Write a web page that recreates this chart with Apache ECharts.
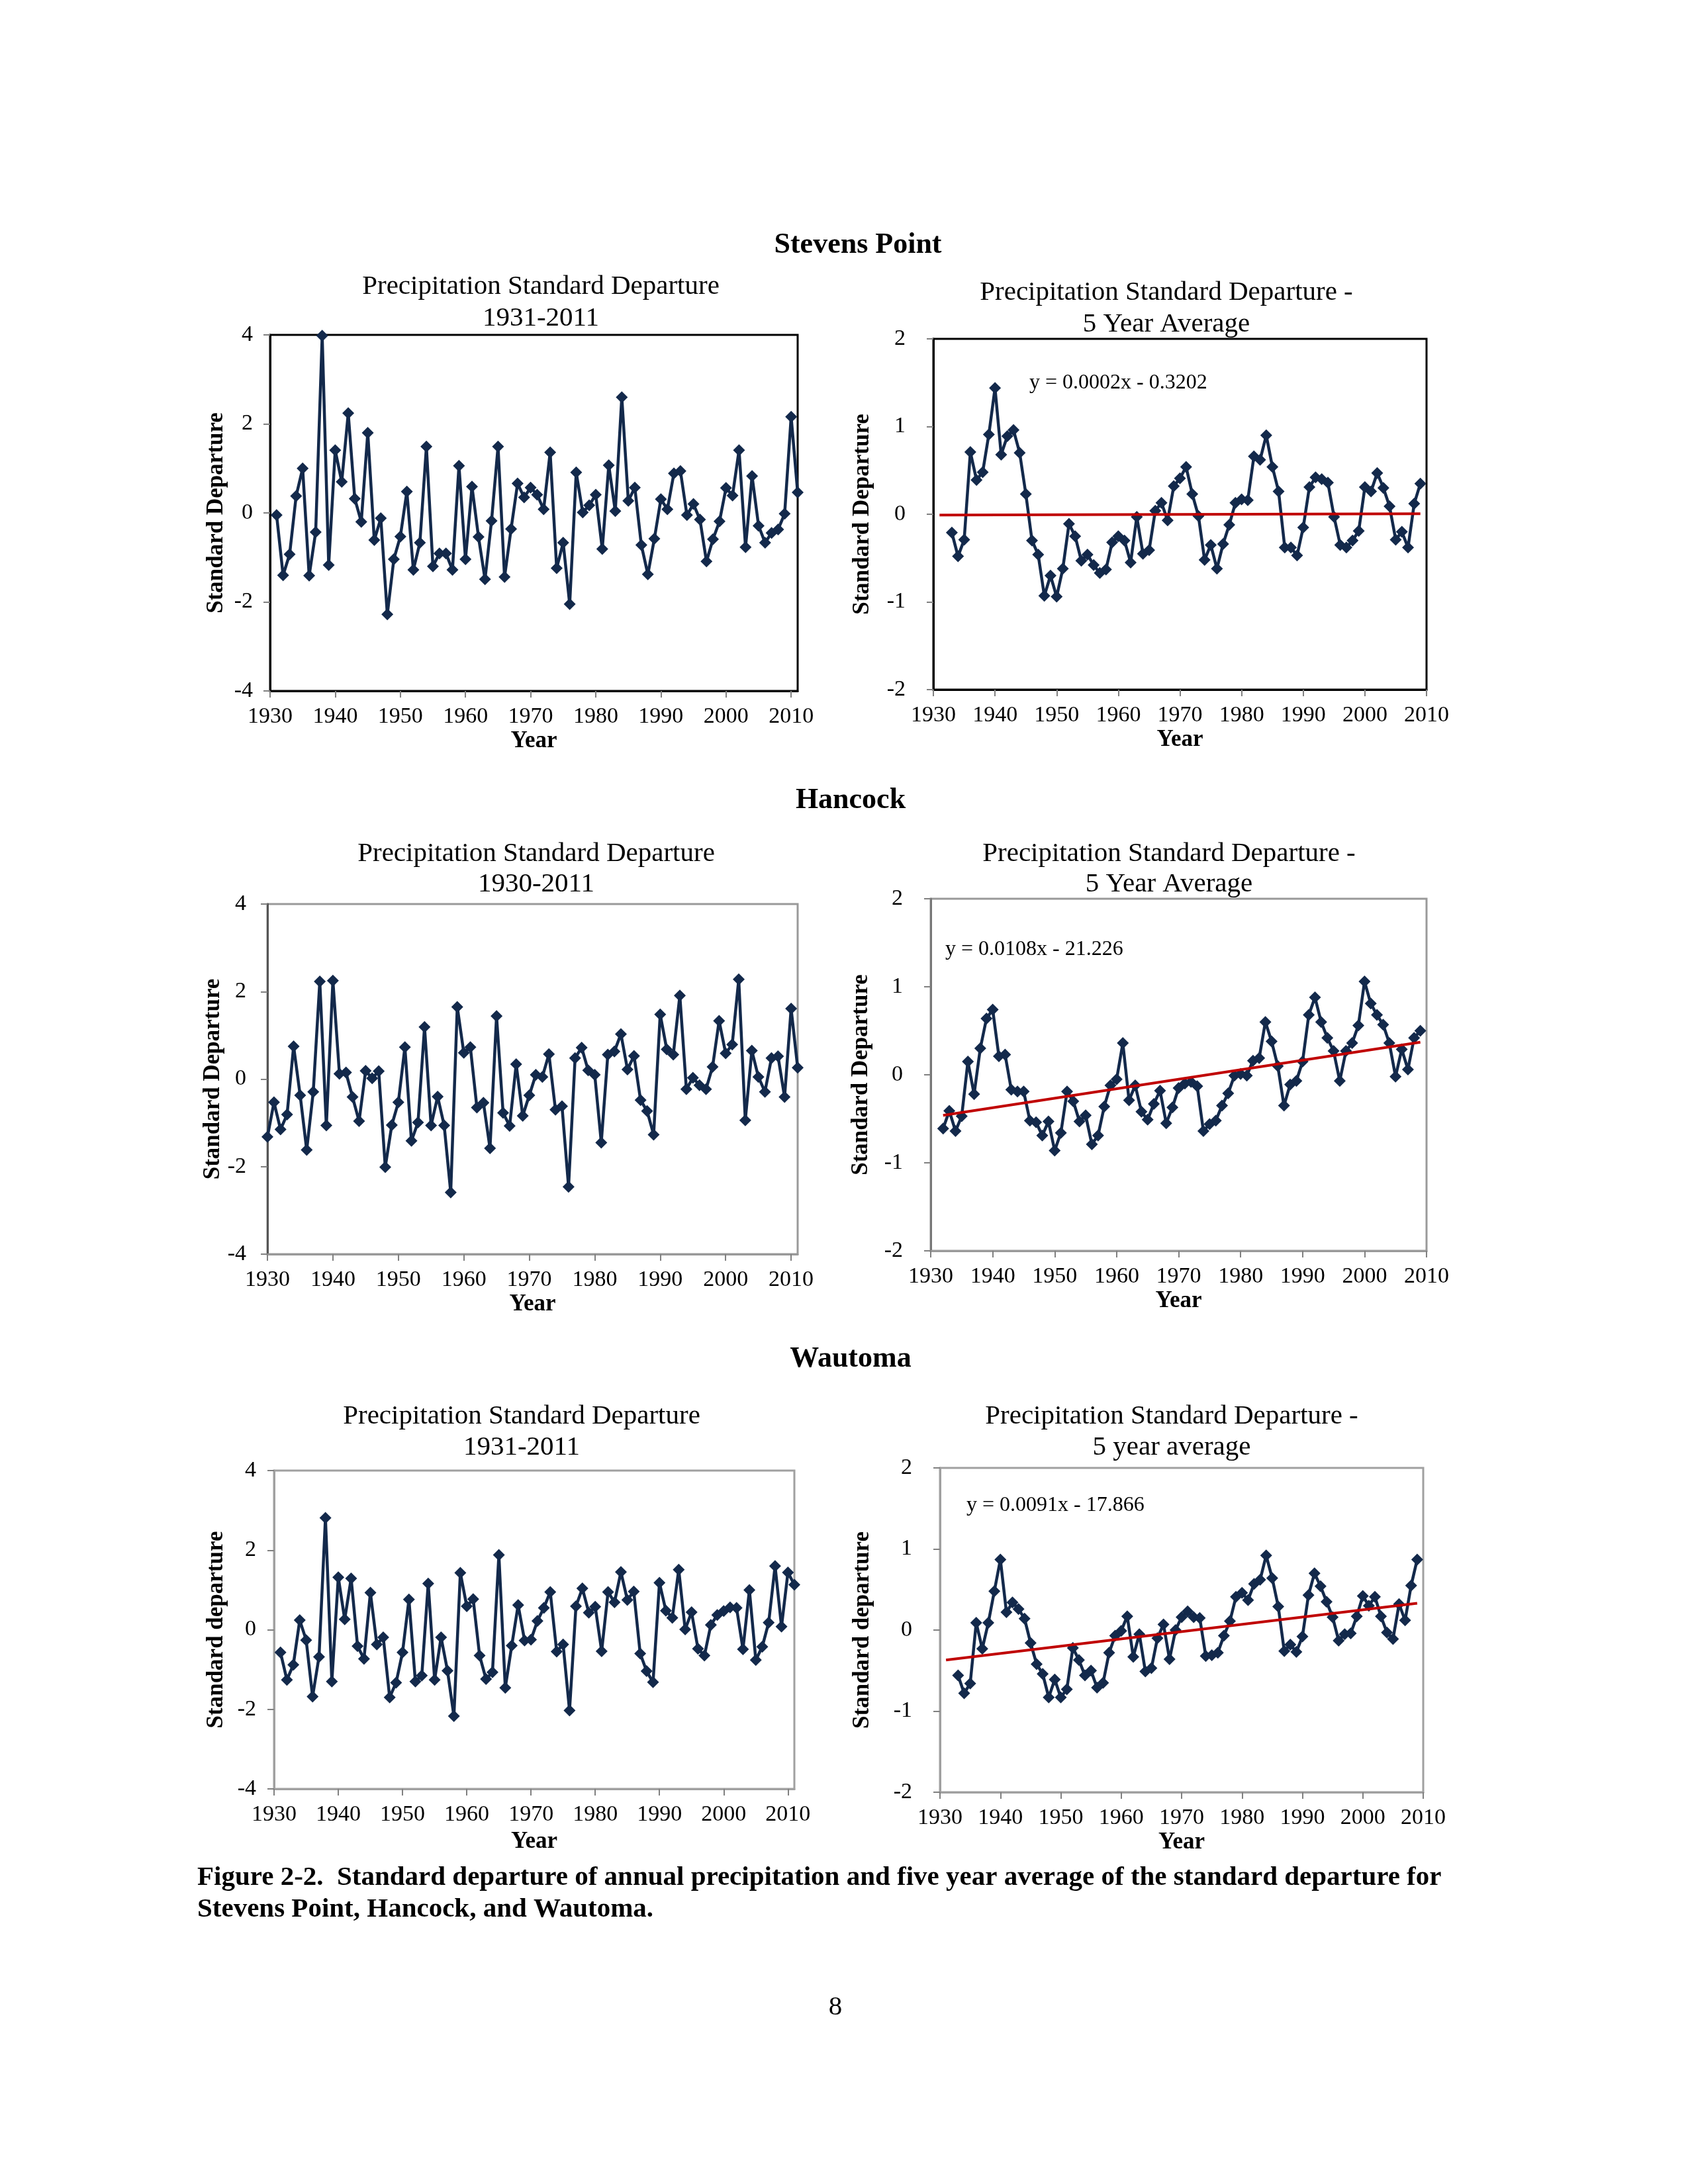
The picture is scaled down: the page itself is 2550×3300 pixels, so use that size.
<!DOCTYPE html>
<html><head><meta charset="utf-8">
<script src="https://cdn.jsdelivr.net/npm/echarts@6/dist/echarts.min.js"></script>
<style>html,body{margin:0;padding:0;background:#fff}#c{width:2550px;height:3300px}</style>
</head><body><div id="c"></div>
<script>
// ---------- data ----------
const yearTicks = [1930,1940,1950,1960,1970,1980,1990,2000,2010];
const yearsAnnual1931 = [1931,1932,1933,1934,1935,1936,1937,1938,1939,1940,1941,1942,1943,1944,1945,1946,1947,1948,1949,1950,1951,1952,1953,1954,1955,1956,1957,1958,1959,1960,1961,1962,1963,1964,1965,1966,1967,1968,1969,1970,1971,1972,1973,1974,1975,1976,1977,1978,1979,1980,1981,1982,1983,1984,1985,1986,1987,1988,1989,1990,1991,1992,1993,1994,1995,1996,1997,1998,1999,2000,2001,2002,2003,2004,2005,2006,2007,2008,2009,2010,2011];
const yearsAnnual1930 = [1930,1931,1932,1933,1934,1935,1936,1937,1938,1939,1940,1941,1942,1943,1944,1945,1946,1947,1948,1949,1950,1951,1952,1953,1954,1955,1956,1957,1958,1959,1960,1961,1962,1963,1964,1965,1966,1967,1968,1969,1970,1971,1972,1973,1974,1975,1976,1977,1978,1979,1980,1981,1982,1983,1984,1985,1986,1987,1988,1989,1990,1991,1992,1993,1994,1995,1996,1997,1998,1999,2000,2001,2002,2003,2004,2005,2006,2007,2008,2009,2010,2011];
const years5yr1933 = [1933,1934,1935,1936,1937,1938,1939,1940,1941,1942,1943,1944,1945,1946,1947,1948,1949,1950,1951,1952,1953,1954,1955,1956,1957,1958,1959,1960,1961,1962,1963,1964,1965,1966,1967,1968,1969,1970,1971,1972,1973,1974,1975,1976,1977,1978,1979,1980,1981,1982,1983,1984,1985,1986,1987,1988,1989,1990,1991,1992,1993,1994,1995,1996,1997,1998,1999,2000,2001,2002,2003,2004,2005,2006,2007,2008,2009];
const years5yr1932 = [1932,1933,1934,1935,1936,1937,1938,1939,1940,1941,1942,1943,1944,1945,1946,1947,1948,1949,1950,1951,1952,1953,1954,1955,1956,1957,1958,1959,1960,1961,1962,1963,1964,1965,1966,1967,1968,1969,1970,1971,1972,1973,1974,1975,1976,1977,1978,1979,1980,1981,1982,1983,1984,1985,1986,1987,1988,1989,1990,1991,1992,1993,1994,1995,1996,1997,1998,1999,2000,2001,2002,2003,2004,2005,2006,2007,2008,2009];

const stevensAnnual = [-0.05,-1.40,-0.93,0.38,1.00,-1.41,-0.43,3.98,-1.17,1.41,
  0.70,2.24,0.32,-0.20,1.80,-0.61,-0.12,-2.28,-1.04,-0.53,
  0.48,-1.28,-0.67,1.49,-1.20,-0.91,-0.91,-1.28,1.06,-1.04,
  0.59,-0.54,-1.49,-0.18,1.49,-1.44,-0.36,0.66,0.35,0.57,
  0.41,0.08,1.36,-1.24,-0.67,-2.05,0.91,0.01,0.17,0.41,
  -0.81,1.07,0.04,2.60,0.27,0.57,-0.72,-1.38,-0.58,0.31,
  0.08,0.89,0.94,-0.05,0.20,-0.15,-1.09,-0.59,-0.19,0.56,
  0.39,1.41,-0.77,0.83,-0.29,-0.67,-0.45,-0.37,-0.02,2.16,
  0.46];
const stevens5yr = [-0.21,-0.48,-0.29,0.71,0.39,0.48,0.91,1.44,0.68,0.89,
  0.96,0.70,0.23,-0.30,-0.46,-0.93,-0.70,-0.94,-0.62,-0.11,
  -0.25,-0.53,-0.46,-0.58,-0.67,-0.63,-0.32,-0.25,-0.30,-0.55,
  -0.03,-0.45,-0.41,0.04,0.13,-0.07,0.32,0.41,0.54,0.23,
  -0.02,-0.52,-0.35,-0.62,-0.34,-0.12,0.13,0.17,0.16,0.66,
  0.62,0.90,0.54,0.26,-0.38,-0.38,-0.47,-0.15,0.31,0.42,
  0.40,0.36,-0.03,-0.35,-0.38,-0.30,-0.19,0.31,0.26,0.47,
  0.30,0.09,-0.29,-0.20,-0.38,0.12,0.35];
const stevensTrendYears = [1931, 2009];
const stevensTrendValues = [-0.01, 0.005];

const hancockAnnual = [-1.32,-0.53,-1.15,-0.81,0.75,-0.37,-1.62,-0.29,2.23,-1.06,
  2.25,0.12,0.15,-0.41,-0.96,0.19,0.02,0.18,-2.01,-1.05,
  -0.53,0.73,-1.41,-0.99,1.19,-1.06,-0.40,-1.06,-2.59,1.65,
  0.60,0.73,-0.65,-0.54,-1.58,1.44,-0.77,-1.07,0.34,-0.84,
  -0.37,0.10,0.05,0.57,-0.70,-0.62,-2.46,0.48,0.72,0.20,
  0.10,-1.45,0.56,0.63,1.03,0.22,0.53,-0.48,-0.73,-1.27,
  1.48,0.68,0.56,1.91,-0.23,0.03,-0.14,-0.23,0.28,1.33,
  0.59,0.79,2.28,-0.94,0.65,0.05,-0.29,0.48,0.52,-0.41,
  1.61,0.26];
const hancock5yr = [-0.61,-0.41,-0.64,-0.47,0.15,-0.22,0.30,0.64,0.74,0.21,
  0.23,-0.17,-0.19,-0.19,-0.52,-0.54,-0.69,-0.53,-0.86,-0.66,
  -0.19,-0.30,-0.53,-0.46,-0.79,-0.69,-0.36,-0.12,-0.05,0.36,
  -0.29,-0.12,-0.42,-0.51,-0.33,-0.18,-0.55,-0.37,-0.15,-0.10,
  -0.08,-0.13,-0.64,-0.56,-0.52,-0.35,-0.21,-0.01,0.01,-0.01,
  0.16,0.19,0.60,0.38,0.10,-0.35,-0.11,-0.07,0.15,0.68,
  0.88,0.60,0.42,0.27,-0.07,0.27,0.36,0.56,1.06,0.81,
  0.68,0.57,0.36,-0.02,0.29,0.06,0.42,0.50];
const hancockTrendYears = [1932, 2009];
const hancockTrendValues = [-0.46, 0.37];

const wautomaAnnual = [-0.57,-1.26,-0.88,0.24,-0.26,-1.68,-0.68,2.81,-1.30,1.32,
  0.26,1.29,-0.41,-0.73,0.93,-0.37,-0.19,-1.70,-1.33,-0.57,
  0.76,-1.30,-1.15,1.16,-1.26,-0.19,-1.03,-2.17,1.43,0.59,
  0.77,-0.65,-1.24,-1.07,1.88,-1.46,-0.40,0.62,-0.27,-0.25,
  0.22,0.55,0.95,-0.55,-0.37,-2.03,0.59,1.04,0.43,0.58,
  -0.54,0.95,0.69,1.45,0.75,0.96,-0.60,-1.04,-1.32,1.18,
  0.48,0.30,1.51,0.01,0.44,-0.48,-0.65,0.12,0.37,0.47,
  0.56,0.55,-0.49,1.00,-0.76,-0.43,0.18,1.60,0.08,1.44,
  1.13];
const wautoma5yr = [-0.56,-0.78,-0.66,0.09,-0.23,0.09,0.48,0.87,0.22,0.34,
  0.26,0.14,-0.16,-0.42,-0.54,-0.83,-0.61,-0.83,-0.73,-0.22,
  -0.37,-0.56,-0.50,-0.71,-0.65,-0.28,-0.07,-0.01,0.17,-0.33,
  -0.05,-0.51,-0.47,-0.10,0.07,-0.36,0.00,0.16,0.23,0.16,
  0.15,-0.32,-0.31,-0.28,-0.07,0.11,0.41,0.46,0.37,0.57,
  0.62,0.92,0.64,0.29,-0.26,-0.18,-0.27,-0.08,0.43,0.70,
  0.54,0.35,0.16,-0.13,-0.05,-0.04,0.17,0.42,0.30,0.41,
  0.17,-0.03,-0.11,0.32,0.12,0.55,0.87];
const wautomaTrendYears = [1931, 2009];
const wautomaTrendValues = [-0.37, 0.33];

// ---------- layout / style ----------
const FONT = '"Liberation Serif", "Times New Roman", serif';
const NAVY = '#13294b';
const RED = '#c00000';

const panels = [
  {rect:[408,506,797,538], years:yearsAnnual1931, vals:stevensAnnual, xMax:2011, yMin:-4, yMax:4, yInt:2,
   yName:'Standard Departure', border:'#000', yAxisColor:'#000', xAxisColor:'#000', yLabelMargin:26, yNameGap:64, xNameGap:58},
  {rect:[1410,512,745,530], years:years5yr1933, vals:stevens5yr, trendX:stevensTrendYears, trendY:stevensTrendValues, xMax:2010, yMin:-2, yMax:2, yInt:1,
   yName:'Standard Departure', border:'#000', yAxisColor:'#000', xAxisColor:'#000', yLabelMargin:42, yNameGap:90, xNameGap:58},
  {rect:[404,1366,801,529], years:yearsAnnual1930, vals:hancockAnnual, xMax:2011, yMin:-4, yMax:4, yInt:2,
   yName:'Standard Departure', border:'#999', yAxisColor:'#555', xAxisColor:'#999', yLabelMargin:32, yNameGap:60, xNameGap:58},
  {rect:[1406,1358,749,532], years:years5yr1932, vals:hancock5yr, trendX:hancockTrendYears, trendY:hancockTrendValues, xMax:2010, yMin:-2, yMax:2, yInt:1,
   yName:'Standard Departure', border:'#999', yAxisColor:'#777', xAxisColor:'#999', yLabelMargin:42, yNameGap:88, xNameGap:58},
  {rect:[414,2222,786,481], years:yearsAnnual1931, vals:wautomaAnnual, xMax:2011, yMin:-4, yMax:4, yInt:2,
   yName:'Standard departure', border:'#a0a0a0', yAxisColor:'#a0a0a0', xAxisColor:'#a0a0a0', yLabelMargin:27, yNameGap:70, xNameGap:62},
  {rect:[1420,2218,730,490], years:years5yr1933, vals:wautoma5yr, trendX:wautomaTrendYears, trendY:wautomaTrendValues, xMax:2010, yMin:-2, yMax:2, yInt:1,
   yName:'Standard departure', border:'#a0a0a0', yAxisColor:'#a0a0a0', xAxisColor:'#a0a0a0', yLabelMargin:42, yNameGap:100, xNameGap:58}
];

const grids = [], xAxes = [], yAxes = [], series = [];
panels.forEach((p, i) => {
  grids.push({left:p.rect[0], top:p.rect[1], width:p.rect[2], height:p.rect[3],
    show:true, borderColor:p.border, borderWidth:3, backgroundColor:'rgba(0,0,0,0)'});
  xAxes.push({gridIndex:i, type:'value', min:1930, max:p.xMax, interval:10,
    axisLine:{show:true, onZero:false, lineStyle:{color:p.xAxisColor, width:3}},
    axisTick:{show:true, inside:false, length:10, customValues:yearTicks, lineStyle:{color:'#808080', width:2}},
    axisLabel:{customValues:yearTicks, formatter:(v) => String(v), fontFamily:FONT, fontSize:34, color:'#000', margin:22},
    splitLine:{show:false},
    name:'Year', nameLocation:'middle', nameGap:p.xNameGap,
    nameTextStyle:{fontFamily:FONT, fontSize:35, fontWeight:'bold', color:'#000'}});
  yAxes.push({gridIndex:i, type:'value', min:p.yMin, max:p.yMax, interval:p.yInt,
    axisLine:{show:true, onZero:false, lineStyle:{color:p.yAxisColor, width:3}},
    axisTick:{show:true, inside:false, length:10, lineStyle:{color:'#808080', width:2}},
    axisLabel:{fontFamily:FONT, fontSize:34, color:'#000', margin:p.yLabelMargin},
    splitLine:{show:false},
    name:p.yName, nameLocation:'middle', nameGap:p.yNameGap,
    nameTextStyle:{fontFamily:FONT, fontSize:35, fontWeight:'bold', color:'#000'}});
  series.push({type:'line', xAxisIndex:i, yAxisIndex:i,
    data:p.years.map((y, k) => [y, p.vals[k]]),
    symbol:'diamond', symbolSize:18, showSymbol:true,
    lineStyle:{color:NAVY, width:4.5}, itemStyle:{color:NAVY}, z:3, clip:false});
  if (p.trendX) {
    series.push({type:'line', xAxisIndex:i, yAxisIndex:i,
      data:p.trendX.map((y, k) => [y, p.trendY[k]]),
      symbol:'none', lineStyle:{color:RED, width:4}, z:4});
  }
});

function txt(text, x, y, size, bold, align) {
  return {type:'text', x:x, y:y, z:10, style:{text:text,
    font:(bold ? 'bold ' : '') + size + 'px ' + FONT,
    fill:'#000', align:align || 'center', textAlign:align || 'center',
    verticalAlign:'middle', textVerticalAlign:'middle'}};
}

const graphics = [
  txt('Stevens Point', 1296, 371, 44, true),
  txt('Precipitation Standard Departure', 817, 433, 41),
  txt('1931-2011', 817, 481, 41),
  txt('Precipitation Standard Departure -', 1762, 442, 41),
  txt('5 Year Average', 1762, 490, 41),
  txt('y = 0.0002x - 0.3202', 1555, 579, 32, false, 'left'),

  txt('Hancock', 1285, 1210, 44, true),
  txt('Precipitation Standard Departure', 810, 1290, 41),
  txt('1930-2011', 810, 1336, 41),
  txt('Precipitation Standard Departure -', 1766, 1290, 41),
  txt('5 Year Average', 1766, 1336, 41),
  txt('y = 0.0108x - 21.226', 1428, 1435, 32, false, 'left'),

  txt('Wautoma', 1285, 2054, 44, true),
  txt('Precipitation Standard Departure', 788, 2140, 41),
  txt('1931-2011', 788, 2187, 41),
  txt('Precipitation Standard Departure -', 1770, 2140, 41),
  txt('5 year average', 1770, 2187, 41),
  txt('y = 0.0091x - 17.866', 1460, 2275, 32, false, 'left'),

  txt('Figure 2-2.  Standard departure of annual precipitation and five year average of the standard departure for', 298, 2837, 41, true, 'left'),
  txt('Stevens Point, Hancock, and Wautoma.', 298, 2885, 41, true, 'left'),
  txt('8', 1262, 3033, 41)
];

const chart = echarts.init(document.getElementById('c'), null, {renderer:'canvas', width:2550, height:3300});
chart.setOption({
  animation:false,
  backgroundColor:'#fff',
  grid:grids, xAxis:xAxes, yAxis:yAxes, series:series,
  graphic:graphics
});
</script>
</body></html>
